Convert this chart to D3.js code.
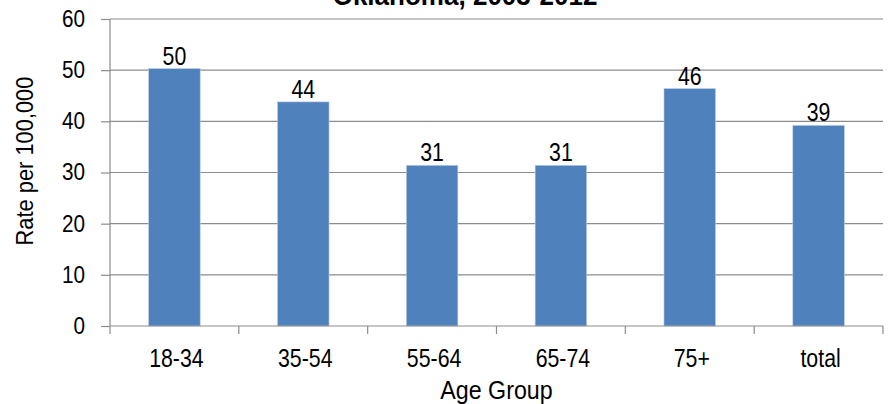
<!DOCTYPE html>
<html>
<head>
<meta charset="utf-8">
<script src="https://cdn.jsdelivr.net/npm/d3@7"></script>
<style>
  body { margin: 0; background: #fff; }
  svg text { font-family: "Liberation Sans", Arial, sans-serif; fill: #000; }
</style>
</head>
<body>
<svg id="chart" width="892" height="404"></svg>
<script>
// data
const groups = ["18-34", "35-54", "55-64", "65-74", "75+", "total"];
const rates  = [50.3, 43.8, 31.4, 31.4, 46.4, 39.2];
const labels = ["50", "44", "31", "31", "46", "39"];
const yTicks = [0, 10, 20, 30, 40, 50, 60];

const svg = d3.select("#chart");
const margin = { top: 19, right: 9, bottom: 78, left: 110 };
const width = +svg.attr("width");
const height = +svg.attr("height");
const innerWidth = width - margin.left - margin.right;
const innerHeight = height - margin.top - margin.bottom;
const grey = "#8c8c8c";

// the reference uses a narrow face; squeeze Liberation Sans horizontally
function narrowText(parent, x, y, txt, size, sx, anchor = "middle", rot = 0) {
  return parent.append("text")
    .attr("transform", `translate(${x},${y}) rotate(${rot}) scale(${sx},1)`)
    .attr("text-anchor", anchor)
    .attr("font-size", size)
    .text(txt);
}

const g = svg.append("g").attr("transform", `translate(${margin.left},${margin.top})`);

const x = d3.scaleBand().domain(groups).range([0, innerWidth]).paddingInner(0.6).paddingOuter(0.3);
const y = d3.scaleLinear().domain([0, 60]).range([innerHeight, 0]);

// gridlines
g.selectAll(".grid").data(yTicks.filter(d => d > 0)).join("line")
  .attr("x1", 0).attr("x2", innerWidth)
  .attr("y1", d => y(d)).attr("y2", d => y(d))
  .attr("stroke", grey).attr("stroke-width", 1.2);

// bars
g.selectAll(".bar").data(groups).join("rect")
  .attr("x", d => x(d))
  .attr("y", (d, i) => y(rates[i]))
  .attr("width", x.bandwidth())
  .attr("height", (d, i) => innerHeight - y(rates[i]))
  .attr("fill", "#4f81bd")
  .attr("stroke", "#b9cde5").attr("stroke-width", 0.6);

// value labels
groups.forEach((d, i) => {
  narrowText(g, x(d) + x.bandwidth() / 2, y(rates[i]) - 4, labels[i], 26, 0.82);
});

// y axis
const sy = 0.9;
const yAxis = g.append("g")
  .call(d3.axisLeft(y).tickValues(yTicks).tickSize(9).tickPadding(0));
yAxis.select(".domain").attr("stroke", grey).attr("stroke-width", 1.2).attr("d", `M0,0V${innerHeight}`);
yAxis.selectAll(".tick line").attr("stroke", grey).attr("stroke-width", 1.2);
yAxis.selectAll(".tick text")
  .attr("font-size", 23)
  .attr("x", -25 / sy)
  .attr("transform", `scale(${sy},1)`);

// x axis with ticks at category boundaries
const step = innerWidth / groups.length;
const xb = g.append("g").attr("transform", `translate(0,${innerHeight})`);
xb.append("line").attr("x1", 0).attr("x2", innerWidth)
  .attr("stroke", grey).attr("stroke-width", 1.2);
xb.selectAll(".bt").data(d3.range(groups.length + 1)).join("line")
  .attr("x1", i => i * step).attr("x2", i => i * step)
  .attr("y1", 0).attr("y2", 8)
  .attr("stroke", grey).attr("stroke-width", 1.2);
groups.forEach(d => {
  narrowText(xb, x(d) + x.bandwidth() / 2 + 2, 41, d, 26, 0.82);
});

// axis titles
narrowText(g, innerWidth / 2, innerHeight + 73, "Age Group", 25, 0.93);
narrowText(svg, 33, 161, "Rate per 100,000", 23.5, 0.93, "middle", -90);

// chart title (cut off at the top in the reference)
narrowText(svg, 465, 5, "Oklahoma, 2003-2012", 28, 0.93).attr("font-weight", "bold");
</script>
</body>
</html>
